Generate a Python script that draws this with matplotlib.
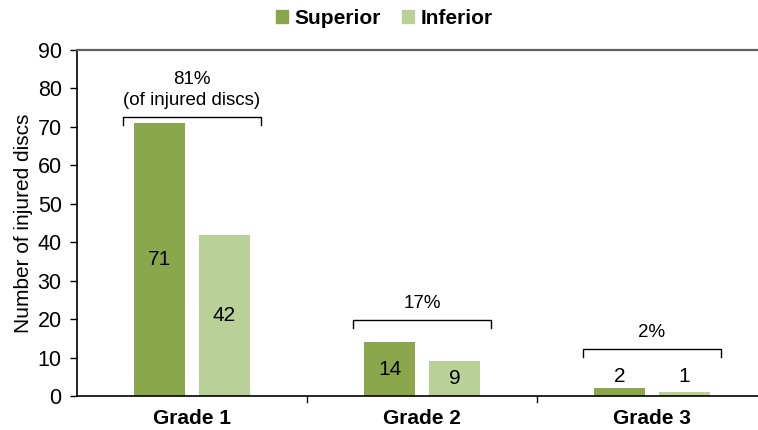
import matplotlib
matplotlib.use("Agg")
from matplotlib import pyplot as plt
from matplotlib.patches import Patch

# Dane
grades = ['Grade 1', 'Grade 2', 'Grade 3']
superior = [71, 14, 2]
inferior = [42, 9, 1]
shares = ['81%\n(of injured discs)', '17%', '2%']
bracket_y = [72.6, 19.8, 12.2]

c_sup = '#8aa84b'
c_inf = '#b9d096'

plt.rcParams['font.family'] = ['Liberation Sans', 'DejaVu Sans']

fig = plt.figure(figsize=(7.58, 4.30), dpi=100)
ax = fig.add_axes([77 / 758, 34 / 430, 681 / 758, 346 / 430])

x = list(range(len(grades)))
w = 0.222
off = 0.141
ax.bar([i - off for i in x], superior, w, color=c_sup, label='Superior')
ax.bar([i + off for i in x], inferior, w, color=c_inf, label='Inferior')

# Etykiety wartości: w środku słupka, a dla małych nad nim
for i in x:
    for xv, v in ((i - off, superior[i]), (i + off, inferior[i])):
        yv = v / 2 if v > 5 else 5
        ax.text(xv, yv, str(v), ha='center', va='center', fontsize=15)

# Nawiasy z udziałem procentowym
for i in x:
    yb = bracket_y[i]
    ax.plot([i - 0.3, i - 0.3, i + 0.3, i + 0.3], [yb - 2, yb, yb, yb - 2],
            color='black', lw=1)
    ax.text(i, yb + 2.0, shares[i], ha='center', va='bottom', fontsize=13.5,
            linespacing=1.35)

ax.set_xlim(-0.5, -0.5 + 681 / 230)
ax.set_ylim(0, 90)
ax.set_yticks(range(0, 91, 10))
ax.tick_params(axis='y', labelsize=15.5, direction='out', length=5, width=1,
               pad=6)
ax.set_xticks(x)
ax.set_xticklabels(grades, fontsize=15, fontweight='bold')
ax.tick_params(axis='x', length=0, pad=9)
for b in (0.5, 1.5):
    ax.plot([b, b], [0, -1.5], color='black', lw=1, clip_on=False)

ax.set_ylabel('Number of injured discs', fontsize=15, labelpad=3)

ax.spines['right'].set_visible(False)
ax.spines['top'].set_color('#606060')
ax.spines['top'].set_linewidth(1.6)
ax.spines['bottom'].set_linewidth(1.2)
ax.spines['left'].set_linewidth(1.2)

handles = [Patch(color=c_sup, label='Superior'), Patch(color=c_inf, label='Inferior')]
leg = fig.legend(handles=handles, loc='center', bbox_to_anchor=(0.507, 0.957),
                 ncol=2, frameon=False, prop={'size': 15, 'weight': 'bold'},
                 handlelength=0.6, handleheight=0.6, handletextpad=0.3,
                 columnspacing=1.0)

fig.savefig('out.png', dpi=100)
